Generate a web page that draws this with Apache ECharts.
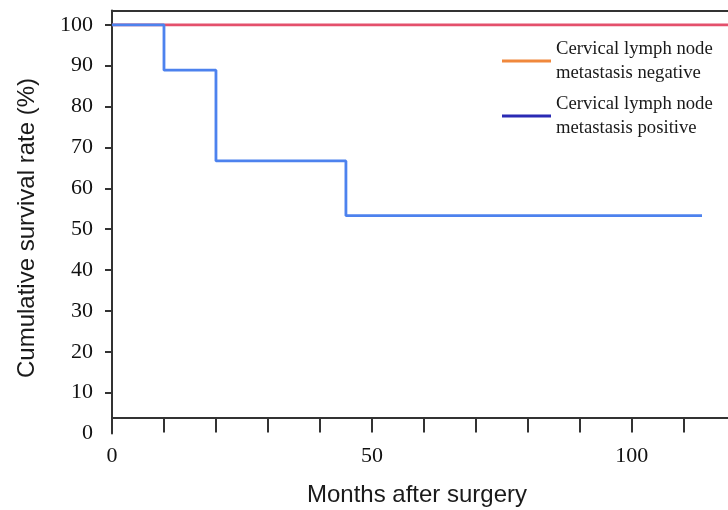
<!DOCTYPE html>
<html>
<head>
<meta charset="utf-8">
<script src="https://cdn.jsdelivr.net/npm/echarts@6/dist/echarts.min.js"></script>
<style>html,body{margin:0;padding:0;background:#fff}#c{width:728px;height:510px}</style>
</head>
<body>
<div id="c"></div>
<script>
const seriesNames = ['Cervical lymph node\nmetastasis negative', 'Cervical lymph node\nmetastasis positive'];
const negMonths = [0, 118.5];
const negSurvival = [100, 100];
const posMonths = [0, 10, 20, 45, 113.5];
const posSurvival = [100, 88.9, 66.7, 53.3, 53.3];
const xTicks = [0, 10, 20, 30, 40, 50, 60, 70, 80, 90, 100, 110];
const xLabels = [0, 50, 100];
const yTicks = [10, 20, 30, 40, 50, 60, 70, 80, 90, 100];
const yLabels = [0, 10, 20, 30, 40, 50, 60, 70, 80, 90, 100];

const axisColor = '#333';
const serif = '"Liberation Serif", "DejaVu Serif", serif';
const sans = '"Liberation Sans", Arial, sans-serif';

const chart = echarts.init(document.getElementById('c'), null, {renderer: 'canvas'});
chart.setOption({
  backgroundColor: '#fff',
  animation: false,
  grid: {left: 112, right: 0, top: 10.5, bottom: 76.5, containLabel: false, outerBoundsMode: 'none'},
  legend: {
    orient: 'vertical',
    left: 497, top: 32,
    icon: 'rect',
    itemWidth: 49, itemHeight: 3,
    itemGap: 7,
    textStyle: {fontFamily: serif, fontSize: 18.7, lineHeight: 24, color: '#1a1a1a'},
    data: [
      {name: seriesNames[0], itemStyle: {color: '#f0883c'}},
      {name: seriesNames[1], itemStyle: {color: '#2a2ab4'}}
    ]
  },
  xAxis: [{
    type: 'value', min: 0, max: 118.5,
    offset: -16,
    name: 'Months after surgery', nameLocation: 'middle', nameGap: 66,
    nameTextStyle: {fontFamily: sans, fontSize: 24, color: '#1a1a1a', padding: [0, 6, 0, 0]},
    axisLine: {show: true, onZero: false, lineStyle: {color: axisColor, width: 2}},
    axisTick: {show: true, length: 15, customValues: xTicks, lineStyle: {color: axisColor, width: 2}},
    axisLabel: {customValues: xLabels, margin: 28, fontFamily: serif, fontSize: 22, color: '#111'},
    splitLine: {show: false}
  }, {
    type: 'value', min: 0, max: 118.5, position: 'top',
    axisLine: {show: true, onZero: false, lineStyle: {color: axisColor, width: 2}},
    axisTick: {show: false}, axisLabel: {show: false}, splitLine: {show: false}
  }],
  yAxis: {
    type: 'value', min: 0, max: 103.5,
    name: 'Cumulative survival rate (%)', nameLocation: 'middle', nameGap: 73,
    nameTextStyle: {fontFamily: sans, fontSize: 24, color: '#1a1a1a', padding: [0, 12, 0, 0]},
    axisLine: {show: true, onZero: false, lineStyle: {color: axisColor, width: 2}},
    axisTick: {show: true, length: 7, customValues: yTicks, lineStyle: {color: axisColor, width: 2}},
    axisLabel: {customValues: yLabels, margin: 19, fontFamily: serif, fontSize: 22, color: '#111'},
    splitLine: {show: false}
  },
  series: [{
    name: seriesNames[0], type: 'line', step: 'end', showSymbol: false, symbol: 'none',
    data: negMonths.map((m, i) => [m, negSurvival[i]]),
    lineStyle: {color: '#e4506c', width: 2.8}, itemStyle: {color: '#e4506c'}
  }, {
    name: seriesNames[1], type: 'line', step: 'end', showSymbol: false, symbol: 'none',
    data: posMonths.map((m, i) => [m, posSurvival[i]]),
    lineStyle: {color: '#4d82ee', width: 2.8}, itemStyle: {color: '#4d82ee'}
  }]
});
</script>
</body>
</html>
